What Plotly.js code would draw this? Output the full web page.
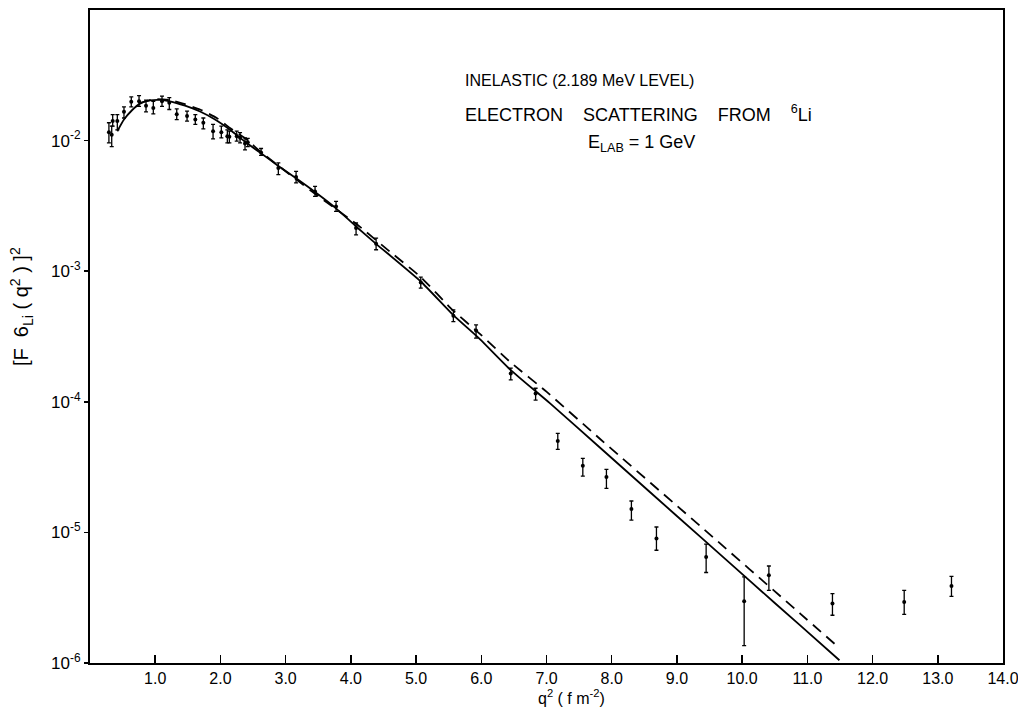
<!DOCTYPE html>
<html>
<head>
<meta charset="utf-8">
<script src="https://cdn.plot.ly/plotly-3.0.1.min.js"></script>
<style>html,body{margin:0;padding:0;background:#fff;}#chart{width:1018px;height:708px;}</style>
</head>
<body>
<div id="chart"></div>
<script>
// Measured data points: q^2 (fm^-2), [F(q^2)]^2, upper and lower error bounds
var dataQ2 = [0.29,0.333,0.348,0.419,0.521,0.633,0.752,0.859,0.971,1.104,1.216,1.330,1.488,1.615,1.738,1.887,2.014,2.106,2.137,2.250,2.301,2.377,2.419,2.623,2.888,3.160,3.451,3.773,4.080,4.387,5.072,5.572,5.920,6.452,6.833,7.173,7.557,7.919,8.302,8.686,9.448,10.031,10.41,11.385,12.485,13.21];
var dataF2 = [1.16e-2,1.11e-2,1.41e-2,1.41e-2,1.66e-2,1.98e-2,2.00e-2,1.85e-2,1.78e-2,2.00e-2,1.95e-2,1.59e-2,1.54e-2,1.45e-2,1.37e-2,1.18e-2,1.16e-2,1.08e-2,1.07e-2,1.08e-2,1.05e-2,9.5e-3,9.7e-3,8.1e-3,6.18e-3,5.27e-3,4.08e-3,3.13e-3,2.14e-3,1.62e-3,8.19e-4,4.55e-4,3.51e-4,1.65e-4,1.16e-4,5.01e-5,3.24e-5,2.65e-5,1.51e-5,8.98e-6,6.49e-6,2.97e-6,4.70e-6,2.85e-6,2.93e-6,3.89e-6];
var dataHi = [1.37e-2,1.29e-2,1.58e-2,1.58e-2,1.81e-2,2.16e-2,2.21e-2,2.04e-2,2.00e-2,2.19e-2,2.13e-2,1.75e-2,1.68e-2,1.58e-2,1.49e-2,1.33e-2,1.29e-2,1.21e-2,1.18e-2,1.18e-2,1.15e-2,1.05e-2,1.04e-2,8.7e-3,6.75e-3,5.82e-3,4.46e-3,3.42e-3,2.34e-3,1.79e-3,9.01e-4,5.06e-4,3.88e-4,1.81e-4,1.27e-4,5.73e-5,3.69e-5,3.04e-5,1.74e-5,1.10e-5,8.12e-6,4.56e-6,5.53e-6,3.40e-6,3.60e-6,4.61e-6];
var dataLo = [9.6e-3,9.0e-3,1.29e-2,1.21e-2,1.49e-2,1.81e-2,1.83e-2,1.66e-2,1.60e-2,1.83e-2,1.73e-2,1.45e-2,1.41e-2,1.33e-2,1.23e-2,1.03e-2,1.05e-2,9.6e-3,9.6e-3,9.9e-3,9.6e-3,8.5e-3,9.0e-3,7.7e-3,5.48e-3,4.74e-3,3.74e-3,2.87e-3,1.90e-3,1.46e-3,7.42e-4,4.11e-4,3.07e-4,1.47e-4,1.03e-4,4.32e-5,2.70e-5,2.17e-5,1.24e-5,7.30e-6,4.93e-6,1.36e-6,3.60e-6,2.32e-6,2.36e-6,3.24e-6];

// Theory curve (solid)
var solidQ2 = [0.419,0.521,0.640,0.767,0.920,1.074,1.227,1.457,1.687,1.917,2.147,2.377,2.607,2.883,3.160,3.466,3.773,4.080,4.387,5.072,5.567,5.982,6.452,7.055,7.822,8.589,9.356,10.123,10.890,11.492];
var solidF2 = [1.18e-2,1.45e-2,1.70e-2,1.92e-2,2.03e-2,2.05e-2,2.00e-2,1.85e-2,1.67e-2,1.45e-2,1.21e-2,9.8e-3,8.1e-3,6.43e-3,5.15e-3,3.99e-3,3.03e-3,2.20e-3,1.62e-3,8.34e-4,4.63e-4,3.01e-4,1.75e-4,9.72e-5,4.45e-5,2.03e-5,9.27e-6,4.23e-6,1.94e-6,1.05e-6];

// Theory curve (dashed)
var dashQ2 = [0.767,0.997,1.227,1.426,1.687,1.943,2.147,2.403,2.607,3.067,3.528,4.080,4.600,5.072,5.567,6.000,6.452,7.004,7.822,9.356,10.890,11.462];
var dashF2 = [1.94e-2,2.08e-2,2.04e-2,1.92e-2,1.73e-2,1.49e-2,1.25e-2,1.02e-2,8.28e-3,5.48e-3,3.66e-3,2.31e-3,1.41e-3,9.02e-4,5.01e-4,3.24e-4,2.00e-4,1.19e-4,5.19e-5,1.12e-5,2.39e-6,1.34e-6];

var xTickVals = [1,2,3,4,5,6,7,8,9,10,11,12,13,14];
var xTickText = ['1.0','2.0','3.0','4.0','5.0','6.0','7.0','8.0','9.0','10.0','11.0','12.0','13.0','14.0'];
var yTickVals = [1e-2,1e-3,1e-4,1e-5,1e-6];
var yTickText = ['10<sup>-2</sup>','10<sup>-3</sup>','10<sup>-4</sup>','10<sup>-5</sup>','10<sup>-6</sup>'];

var errPlus = dataHi.map(function(v,i){return v - dataF2[i];});
var errMinus = dataLo.map(function(v,i){return dataF2[i] - v;});

var traces = [
  {x: solidQ2, y: solidF2, mode:'lines', line:{color:'#000', width:1.8, shape:'spline', smoothing:0.5}, hoverinfo:'skip'},
  {x: dashQ2, y: dashF2, mode:'lines', line:{color:'#000', width:1.8, dash:'11px,7px', shape:'spline', smoothing:0.5}, hoverinfo:'skip'},
  {x: dataQ2, y: dataF2, mode:'markers', marker:{color:'#000', size:4},
   error_y:{type:'data', symmetric:false, array: errPlus, arrayminus: errMinus, color:'#000', thickness:1.3, width:2}}
];

var fam = '"Liberation Sans", Arial, sans-serif';

var layout = {
  width:1018, height:708,
  margin:{l:90, r:15, t:10, b:45},
  paper_bgcolor:'#fff', plot_bgcolor:'#fff',
  showlegend:false,
  font: {family:fam, color:'#000'},
  xaxis:{range:[0,14], tickvals:xTickVals, ticktext:xTickText, ticks:'inside', ticklen:8, tickwidth:1.5, tickcolor:'#000',
    showline:true, mirror:true, linecolor:'#000', linewidth:2, showgrid:false, zeroline:false,
    ticklabeloverflow:'allow', tickfont:{family:fam, size:16, color:'#000'}},
  yaxis:{type:'log', range:[-6,-1], tickvals:yTickVals, ticktext:yTickText, ticks:'outside', ticklen:4, tickwidth:1.5, tickcolor:'#000',
    showline:true, mirror:true, linecolor:'#000', linewidth:2, showgrid:false, zeroline:false,
    tickfont:{family:fam, size:17, color:'#000'}},
  annotations:[
    {xref:'paper', yref:'paper', x:-0.075, y:0.5, xanchor:'center', yanchor:'middle', textangle:-90, showarrow:false,
     yshift:30, text:'[F  6<sub>Li</sub> ( q<sup>2</sup> ) ]<sup>2</sup>', font:{family:fam, size:20, color:'#000'}},
    {xref:'paper', yref:'paper', x:0.5, y:0, xanchor:'center', yanchor:'top', showarrow:false, xshift:25, yshift:-22,
     text:'q<sup>2</sup> ( f m<sup>-2</sup>)', font:{family:fam, size:16, color:'#000'}},
    {xref:'paper', yref:'paper', x:0.408, y:1, xanchor:'left', yanchor:'middle', showarrow:false, yshift:-70,
     text:'INELASTIC (2.189 MeV LEVEL)', font:{family:fam, size:16, color:'#000'}},
    {xref:'paper', yref:'paper', x:0.408, y:1, xanchor:'left', yanchor:'middle', showarrow:false, yshift:-103,
     text:'ELECTRON    SCATTERING    FROM    <sup>6</sup>Li', font:{family:fam, size:18, color:'#000'}},
    {xref:'paper', yref:'paper', x:0.604, y:1, xanchor:'center', yanchor:'middle', showarrow:false, yshift:-133,
     text:'E<sub>LAB</sub> = 1 GeV', font:{family:fam, size:18, color:'#000'}}
  ]
};

Plotly.newPlot('chart', traces, layout, {staticPlot:true, displayModeBar:false});
</script>
</body>
</html>
